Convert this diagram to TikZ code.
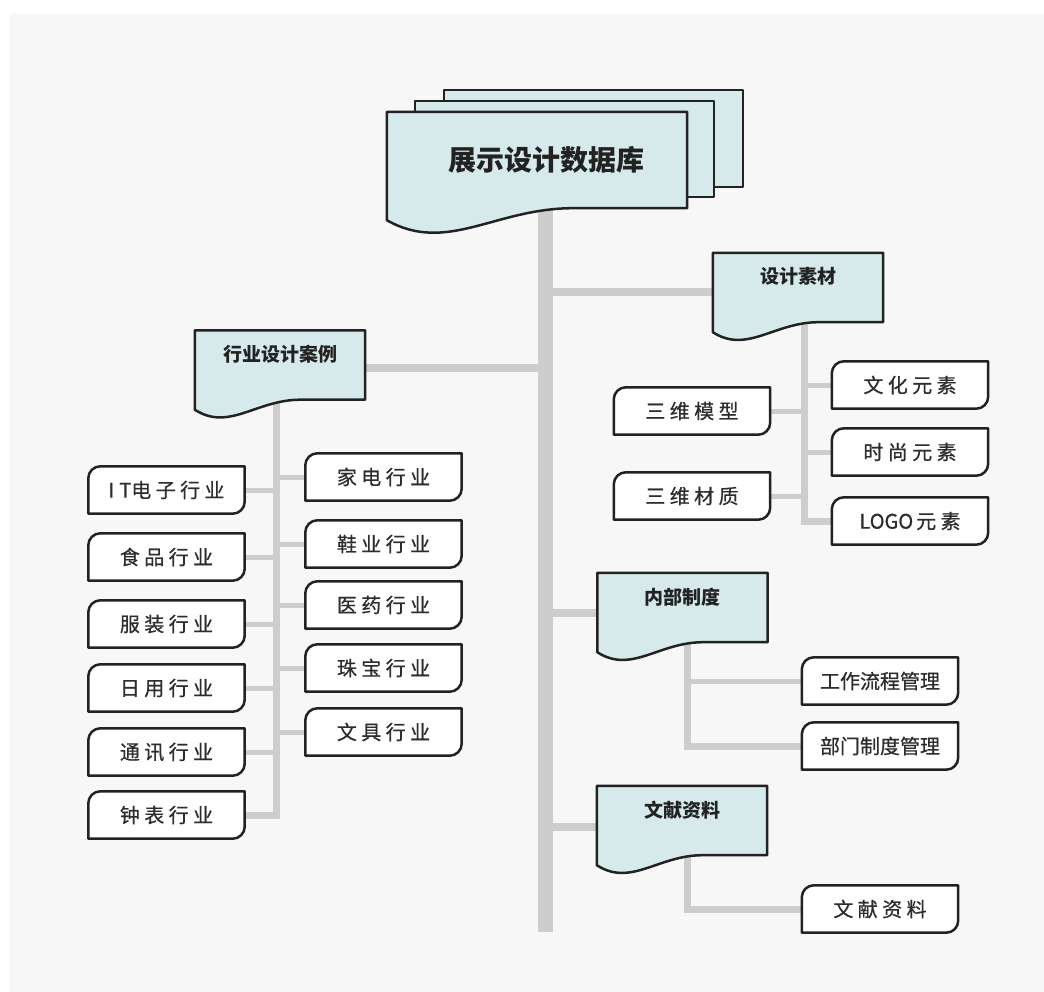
\documentclass[tikz,border=0pt]{standalone}
\usepackage{fontspec}
\newfontfamily\cjk{Noto Sans CJK SC}
\newfontfamily\cjkm[FakeBold=0.6]{Noto Sans CJK SC}
\newfontfamily\cjksp[LetterSpace=22,FakeBold=0.6]{Noto Sans CJK SC}
\usetikzlibrary{calc,backgrounds}
\pgfdeclarelayer{back}
\pgfsetlayers{back,background,main}
\definecolor{panel}{RGB}{247,247,247}
\definecolor{docfill}{RGB}{214,234,236}
\definecolor{linegray}{RGB}{205,205,205}
\definecolor{ink}{RGB}{34,34,34}
\definecolor{txt}{RGB}{45,45,45}
\tikzset{
  leaf/.style={minimum width=156pt, minimum height=47pt, inner sep=0pt, text=txt,
    font=\cjksp\fontsize{20}{24}\selectfont},
  leafb/.style={leaf, font=\cjkm\fontsize{20}{24}\selectfont},
  doc/.style={minimum width=170pt, minimum height=69pt, inner sep=0pt, text=ink,
    font=\cjk\bfseries\fontsize{19}{23}\selectfont},
  topdoc/.style={minimum width=300pt, minimum height=96pt, inner sep=0pt, text=ink,
    font=\cjk\bfseries\fontsize{28}{32}\selectfont},
  trunk/.style={line width=15pt, draw=linegray},
  branch/.style={line width=8pt, draw=linegray},
  subline/.style={line width=7pt, draw=linegray},
  stub/.style={line width=5pt, draw=linegray},
  shapeline/.style={line width=2.5pt, draw=ink, line join=round}
}
\newcommand\mkleaf[1]{\filldraw[shapeline, fill=white] (#1.south west) -- ([yshift=-12pt]#1.north west) arc[start angle=180,end angle=90,radius=12pt] -- (#1.north east) -- ([yshift=12pt]#1.south east) arc[start angle=0,end angle=-90,radius=12pt] -- cycle;}
\newcommand\mkdoc[3]{\filldraw[shapeline, fill=docfill] (#1.north west) -- (#1.north east) -- (#1.south east) -- ($(#1.south west)!0.62!(#1.south east)$) .. controls ($(#1.south west)!0.36!(#1.south east)$) and ($(#1.south west)!0.2!(#1.south east)+(0,-#3)$) .. ($(#1.south west)+(0,-#2)$) -- cycle;}
\newcommand\up[1]{\raisebox{3.5pt}[0pt][0pt]{#1}}
\begin{document}
\begin{tikzpicture}[x=1pt,y=1pt]
\useasboundingbox (0,0) rectangle (1044,-992);
\begin{pgfonlayer}{back}
\fill[white] (0,0) rectangle (1044,-992);
\fill[panel] (10,-14) rectangle (1044,-992);
\end{pgfonlayer}

% documents
\node[topdoc] (top) at (537,-160) {\kern18pt 展示设计数据库};
\node[doc] (sucai) at (798,-287.5) {\up{设计素材}};
\node[doc] (hangye) at (280,-365) {\up{行业设计案例}};
\node[doc] (neibu) at (682.5,-607.5) {\up{内部制度}};
\node[doc] (wenxian) at (682,-820.5) {\up{文献资料}};

% industry leaves
\node[leaf] (it) at (166.5,-490) {{\cjkm\fontsize{20}{24}\selectfont I\kern5pt T}电子行业};
\node[leaf] (shipin) at (166.5,-557) {食品行业};
\node[leaf] (fuzhuang) at (166.5,-624) {服装行业};
\node[leaf] (riyong) at (166.5,-688) {日用行业};
\node[leaf] (tongxun) at (166.5,-752) {通讯行业};
\node[leaf] (zhongbiao) at (166.5,-815) {钟表行业};
\node[leaf] (jiadian) at (383.5,-477) {家电行业};
\node[leaf] (xieye) at (383.5,-544) {鞋业行业};
\node[leaf] (yiyao) at (383.5,-605) {医药行业};
\node[leaf] (zhubao) at (383.5,-668) {珠宝行业};
\node[leaf] (wenju) at (383.5,-732) {文具行业};

% material leaves
\node[leaf] (wenhua) at (910,-385) {文化元素};
\node[leaf] (shishang) at (910,-452) {时尚元素};
\node[leaf] (logo) at (910,-521) {{\cjkm\fontsize{20}{24}\selectfont LOGO}\kern3pt 元素};
\node[leaf] (moxing) at (692,-411) {三维模型};
\node[leaf] (caizhi) at (692,-496) {三维材质};

% other leaves
\node[leafb] (gongzuo) at (880,-681) {工作流程管理};
\node[leafb] (bumen) at (880,-746) {部门制度管理};
\node[leaf] (wxleaf) at (880,-909) {文献资料};

\coordinate (tx) at (545,-932);
\coordinate (hx) at (276,-400);
\coordinate (sx) at (804,-330);
\coordinate (nx) at (687,-640);
\coordinate (wx) at (687,-850);

\begin{pgfonlayer}{background}
% trunk and branches
\draw[trunk] (tx |- top.south) -- (tx);
\draw[branch] ($(sucai.west)+(0,-5)$) -- ($(tx |- sucai.west)+(0,-5)$);
\draw[branch] ($(hangye.east)+(0,-3)$) -- ($(tx |- hangye.east)+(0,-3)$);
\draw[branch] ($(neibu.west)+(0,-5)$) -- ($(tx |- neibu.west)+(0,-5)$);
\draw[branch] ($(wenxian.west)+(0,-6)$) -- ($(tx |- wenxian.west)+(0,-6)$);
% sub trunks
\draw[subline] (hx |- hangye.south) -- (hx |- zhongbiao.east) -- (zhongbiao.east);
\draw[subline] (sx |- sucai.south) -- (sx |- logo.west) -- (logo.west);
\draw[subline] (nx |- neibu.south) -- (nx |- bumen.west) -- (bumen.west);
\draw[subline] (wx |- wenxian.south) -- (wx |- wxleaf.west) -- (wxleaf.west);
% stubs
\foreach \n in {it,shipin,fuzhuang,riyong,tongxun} \draw[stub] (\n.east) -- (hx |- \n.east);
\foreach \n in {jiadian,xieye,yiyao,zhubao,wenju} \draw[stub] (\n.west) -- (hx |- \n.west);
\foreach \n in {moxing,caizhi} \draw[stub] (\n.east) -- (sx |- \n.east);
\foreach \n in {wenhua,shishang} \draw[stub] (\n.west) -- (sx |- \n.west);
\draw[stub] (gongzuo.west) -- (nx |- gongzuo.west);
% shapes
\filldraw[shapeline, fill=docfill] ([shift={(57,22)}]top.north west) rectangle ([shift={(56,21)}]top.south east);
\filldraw[shapeline, fill=docfill] ([shift={(28,11)}]top.north west) rectangle ([shift={(27,11)}]top.south east);
\mkdoc{top}{12}{46}
\mkdoc{sucai}{10}{32}
\mkdoc{hangye}{10}{32}
\mkdoc{neibu}{10}{32}
\mkdoc{wenxian}{10}{32}
\foreach \n in {it,shipin,fuzhuang,riyong,tongxun,zhongbiao,jiadian,xieye,yiyao,zhubao,wenju,wenhua,shishang,logo,moxing,caizhi,gongzuo,bumen,wxleaf} {\mkleaf{\n}}
\end{pgfonlayer}
\end{tikzpicture}
\end{document}
